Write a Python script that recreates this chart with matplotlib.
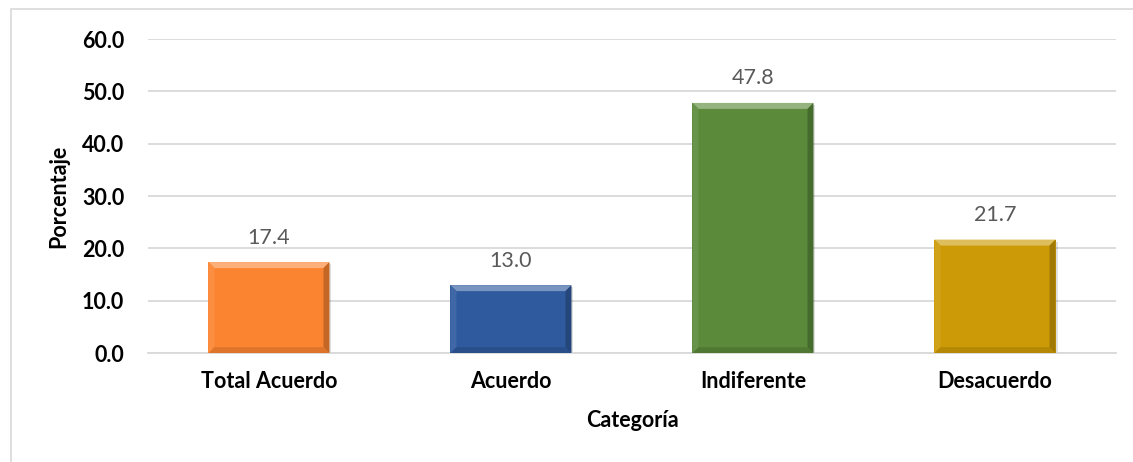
import matplotlib
matplotlib.use("Agg")
import matplotlib.pyplot as plt
from matplotlib.patches import Polygon, Rectangle
from matplotlib.colors import to_rgb
from matplotlib.transforms import IdentityTransform

plt.rcParams["font.family"] = ["Lato", "DejaVu Sans"]

categories = ["Total Acuerdo", "Acuerdo", "Indiferente", "Desacuerdo"]
values = [17.4, 13.0, 47.8, 21.7]
bar_colors = ["#FB8430", "#2F5A9E", "#5A8A3A", "#CC9A06"]
y_ticks = [0, 10, 20, 30, 40, 50, 60]


def shade(color, factor):
    r, g, b = to_rgb(color)
    if factor >= 1:
        f = factor - 1
        return (r + (1 - r) * f, g + (1 - g) * f, b + (1 - b) * f)
    return (r * factor, g * factor, b * factor)


DPI = 100
fig = plt.figure(figsize=(11.33, 4.62), dpi=DPI)
ax = fig.add_axes([0.1306, 0.2355, 0.8544, 0.6800])

# outer chart border
fig.add_artist(Rectangle((11 / 1133, -0.1), 1.2, 1 - 9 / 462 + 0.1, transform=fig.transFigure,
                         fill=False, edgecolor="#d9d9d9", linewidth=1.2))

x = list(range(len(categories)))
bars = ax.bar(x, values, width=0.5, color=bar_colors, zorder=3, linewidth=0)

ax.set_xlim(-0.5, len(categories) - 0.5)
ax.set_ylim(0, 60)
ax.set_yticks(y_ticks)
ax.set_yticklabels([f"{v:.1f}" for v in y_ticks])
ax.set_xticks(x)
ax.set_xticklabels(categories)
ax.yaxis.grid(True, color="#d9d9d9", linewidth=1.3, zorder=0)
ax.set_axisbelow(True)
for side in ["top", "right", "left"]:
    ax.spines[side].set_visible(False)
ax.spines["bottom"].set_color("#d9d9d9")
ax.spines["bottom"].set_linewidth(1.3)
ax.tick_params(axis="both", length=0, labelsize=15.5, colors="black")
ax.tick_params(axis="y", pad=17)
ax.tick_params(axis="x", pad=13)
for lab in ax.get_xticklabels() + ax.get_yticklabels():
    lab.set_fontweight("bold")

ax.set_ylabel("Porcentaje", fontsize=15.5, fontweight="bold", labelpad=9)
ax.set_xlabel("Categoría", fontsize=15.5, fontweight="bold", labelpad=13)

for xi, v in zip(x, values):
    ax.annotate(f"{v:.1f}", (xi, v), xytext=(0, 10.5), textcoords="offset points",
                ha="center", va="bottom", fontsize=15.5, color="#595959")

# bevel effect on bars, drawn in pixel space
fig.canvas.draw()
b = 6
for bar, col in zip(bars, bar_colors):
    x0, y0 = ax.transData.transform((bar.get_x(), 0))
    x1, y1 = ax.transData.transform((bar.get_x() + bar.get_width(), bar.get_height()))
    # soft shadow
    ax.add_patch(Rectangle((x0 + 2, y0 - 2), x1 - x0, y1 - y0, transform=IdentityTransform(),
                           facecolor="#000000", alpha=0.12, linewidth=0, zorder=2))
    faces = [
        ([(x0, y1), (x1, y1), (x1 - b, y1 - b), (x0 + b, y1 - b)], shade(col, 1.35)),
        ([(x0, y0), (x0, y1), (x0 + b, y1 - b), (x0 + b, y0 + b)], shade(col, 1.08)),
        ([(x1, y0), (x1, y1), (x1 - b, y1 - b), (x1 - b, y0 + b)], shade(col, 0.78)),
        ([(x0, y0), (x1, y0), (x1 - b, y0 + b), (x0 + b, y0 + b)], shade(col, 0.88)),
    ]
    for pts, fc in faces:
        ax.add_patch(Polygon(pts, closed=True, transform=IdentityTransform(),
                             facecolor=fc, edgecolor="none", zorder=4))

fig.savefig("out.png", dpi=DPI)
